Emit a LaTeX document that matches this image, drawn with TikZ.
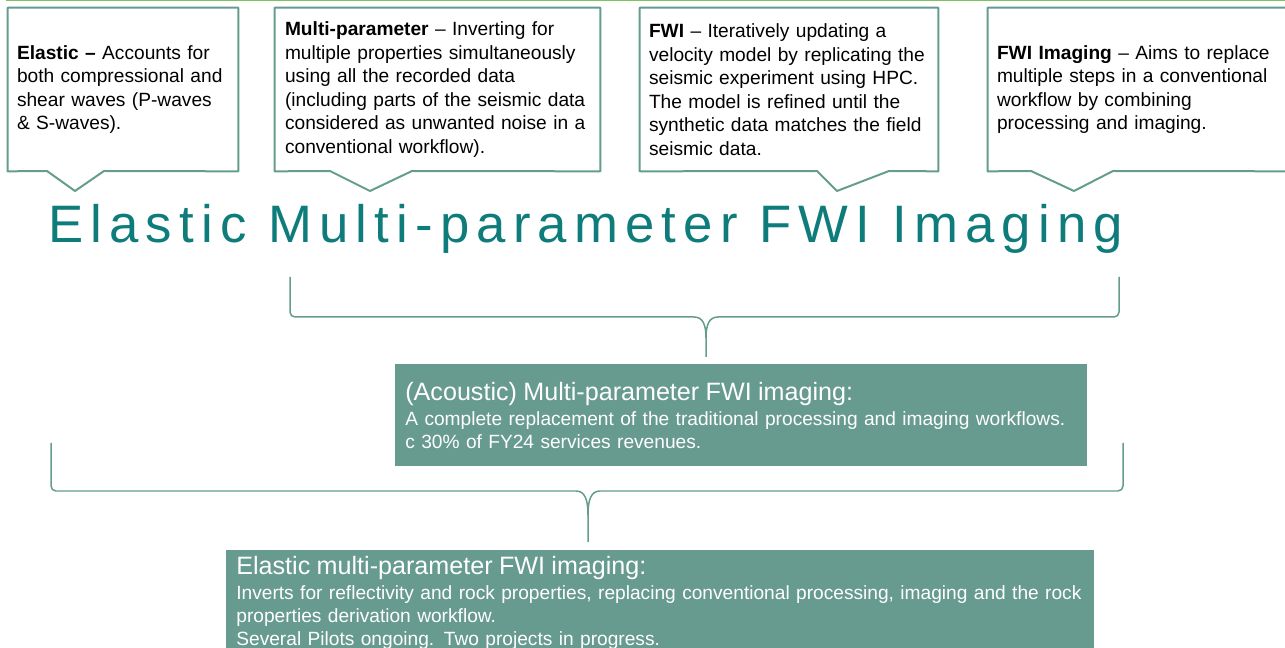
\documentclass[tikz,border=0pt]{standalone}
\usepackage{fontspec}
\setmainfont{Liberation Sans}
\newfontfamily\spacedfont[LetterSpace=13.6]{Liberation Sans}

\definecolor{calline}{HTML}{649C8E}
\definecolor{boxfill}{HTML}{679B8F}
\definecolor{titleteal}{HTML}{0E7C7B}
\definecolor{topgreen}{HTML}{7CC25F}

\begin{document}
\begin{tikzpicture}[
        x = 0.02cm, y = -0.02cm, % one unit per pixel, y downwards
        font = \fontsize{10.9pt}{13.4pt}\selectfont, % body text
        line join = round
    ]
    \tikzstyle{callbox}=[
        rectangle,
        minimum height = 3.26cm,
        inner xsep = 0.18cm,
        align = left
    ]
    \tikzstyle{callline}=[draw = calline, line width = 0.04cm]
    \tikzstyle{infobox}=[
        fill = boxfill,
        text = white,
        minimum height = 2.04cm,
        inner xsep = 0.2cm,
        align = left,
        anchor = north west
    ]
    \tikzstyle{brace}=[draw = calline, line width = 0.03cm]

    \useasboundingbox (0,0) rectangle (1285,648);
    \draw[topgreen, line width = 0.04cm] (6,0) -- (1285,0);

    % the four callouts
    \node[callbox, minimum width = 4.6cm, text width = 4.24cm] (elastic) at (123,89.5)
        {\textbf{Elastic --} Accounts for\\both compressional and\\shear waves (P-waves\\\& S-waves).};
    \node[callbox, minimum width = 6.5cm, text width = 6.1cm, inner xsep = 0.2cm] (multi) at (437.5,89.5)
        {\textbf{Multi-parameter} -- Inverting for\\multiple properties simultaneously\\using all the recorded data\\(including parts of the seismic data\\considered as unwanted noise in a\\conventional workflow).};
    \node[callbox, minimum width = 5.96cm, text width = 5.6cm] (fwi) at (789,89.5)
        {\textbf{FWI} -- Iteratively updating a\\velocity model by replicating the\\seismic experiment using HPC.\\The model is refined until the\\synthetic data matches the field\\seismic data.};
    \node[callbox, minimum width = 6.24cm, text width = 5.88cm] (imaging) at (1144,89.5)
        {\textbf{FWI Imaging} -- Aims to replace\\multiple steps in a conventional\\workflow by combining\\processing and imaging.};

    \draw[callline] (elastic.south west) -- (elastic.north west) -- (elastic.north east)
        -- (elastic.south east) -- (104,171) -- (75,191) -- (47,171) -- cycle;
    \draw[callline] (multi.south west) -- (multi.north west) -- (multi.north east)
        -- (multi.south east) -- (412,171) -- (370,191) -- (330,171) -- cycle;
    \draw[callline] (fwi.south west) -- (fwi.north west) -- (fwi.north east)
        -- (fwi.south east) -- (889,171) -- (837,191) -- (817,171) -- cycle;
    \draw[callline] (imaging.south west) -- (imaging.north west) -- (imaging.north east)
        -- (imaging.south east) -- (1113,171) -- (1074,191) -- (1031,171) -- cycle;

    \node[anchor = base west, inner sep = 0, text = titleteal,
        font = \spacedfont\fontsize{30pt}{36pt}\selectfont] (title) at (48,243)
        {Elastic Multi-parameter FWI Imaging};

    % braces
    \draw[brace] (290,277) -- (290,312) to[out=-90,in=180] (295,317) -- (694,317)
        .. controls (703,317) and (706,325) .. (706,338) -- (706,357);
    \draw[brace] (1119,277) -- (1119,312) to[out=-90,in=0] (1114,317) -- (718,317)
        .. controls (709,317) and (706,325) .. (706,338);
    \draw[brace] (51,443) -- (51,486) to[out=-90,in=180] (56,491) -- (576,491)
        .. controls (585,491) and (588,500) .. (588,515) -- (588,542);
    \draw[brace] (1123,443) -- (1123,486) to[out=-90,in=0] (1118,491) -- (600,491)
        .. controls (591,491) and (588,500) .. (588,515);

    % filled boxes
    \node[infobox, minimum width = 13.84cm, text width = 13.44cm,
        font = \fontsize{10.9pt}{13.2pt}\selectfont] (acoustic) at (395,364)
        {{\fontsize{14.3pt}{17pt}\selectfont (Acoustic) Multi-parameter FWI imaging:}\\[1pt]
        A complete replacement of the traditional processing and imaging workflows.\\
        c 30\% of FY24 services revenues.};
    \node[infobox, minimum width = 17.36cm, text width = 16.96cm,
        font = \fontsize{10.9pt}{13.2pt}\selectfont] (elasticfwi) at (226,550)
        {{\fontsize{14.3pt}{17pt}\selectfont Elastic multi-parameter FWI imaging:}\\[1pt]
        Inverts for reflectivity and rock properties, replacing conventional processing, imaging and the rock\\
        properties derivation workflow.\\
        Several Pilots ongoing. Two projects in progress.};
\end{tikzpicture}
\end{document}
